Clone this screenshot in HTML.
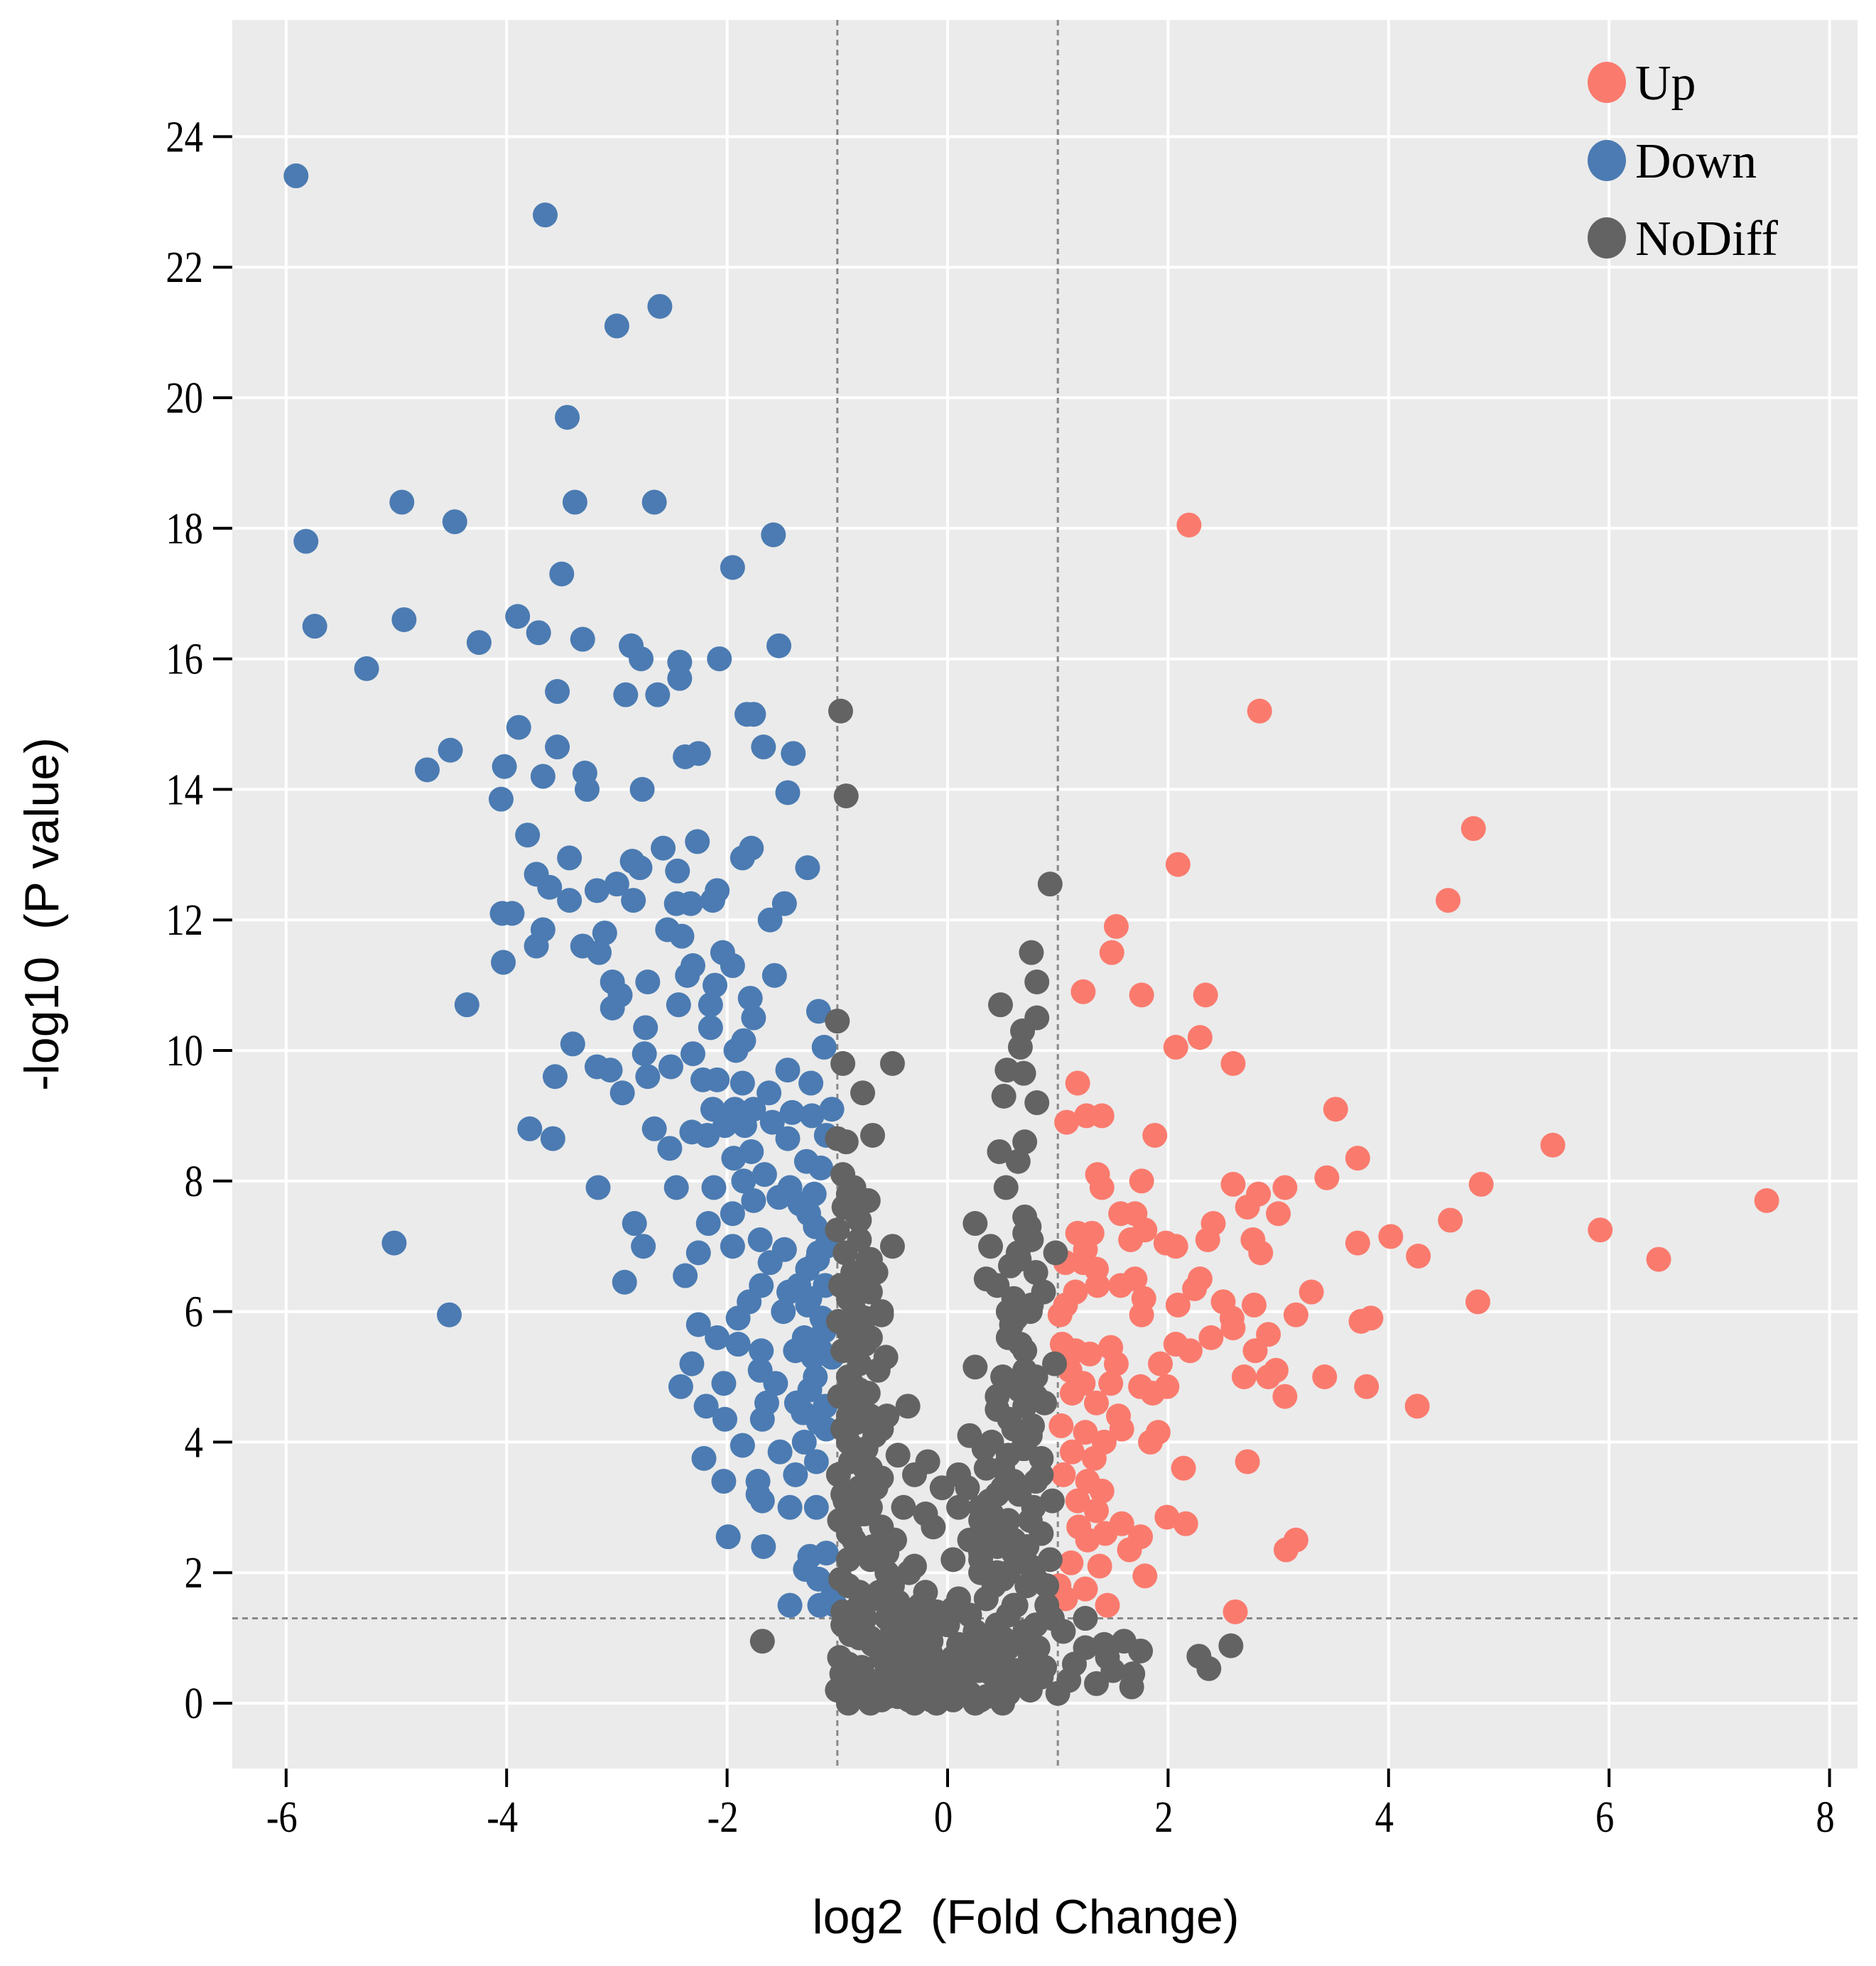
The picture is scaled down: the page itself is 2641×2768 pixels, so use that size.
<!DOCTYPE html>
<html><head><meta charset="utf-8"><style>
html,body{margin:0;padding:0;background:#fff;}
svg{display:block;}
text{white-space:pre;}
</style></head><body>
<svg id="chart" width="2641" height="2768" viewBox="0 0 2641 2768" xmlns="http://www.w3.org/2000/svg"></svg>
<script>
const xTicks=[-6,-4,-2,0,2,4,6,8];
const yTicks=[0,2,4,6,8,10,12,14,16,18,20,22,24];
const xThresholds=[-1,1];
const yThreshold=1.3;
const downX=[-5.91,-3.65,-2.61,-3.0,-3.45,-4.95,-2.66,-3.38,-4.47,-5.82,-1.58,-1.95,-3.5,-5.74,-4.93,-3.9,-3.71,-3.31,-4.25,-2.87,-2.78,-2.43,-2.07,-1.53,-5.27,-2.43,-3.54,-2.92,-2.63,-1.82,-1.76,-3.89,-4.51,-3.54,-1.67,-1.40,-2.38,-2.26,-4.72,-4.02,-3.67,-3.29,-3.27,-2.77,-1.45,-4.05,-3.81,-2.58,-2.27,-1.78,-1.86,-3.43,-1.27,-3.73,-2.45,-2.79,-2.86,-3.61,-3.18,-3.0,-2.85,-3.43,-2.09,-2.13,-2.46,-2.33,-1.48,-1.61,-4.04,-3.95,-2.54,-2.41,-3.11,-3.67,-3.31,-3.73,-3.16,-2.04,-4.03,-1.95,-2.31,-2.36,-3.04,-2.72,-1.57,-2.11,-1.79,-2.97,-2.44,-3.04,-2.15,-4.36,-1.17,-1.76,-2.74,-2.15,-3.40,-1.85,-1.92,-2.75,-2.31,-1.12,-1.45,-3.18,-3.06,-2.51,-2.72,-3.56,-2.22,-2.09,-1.86,-1.24,-2.95,-1.62,-2.13,-1.93,-1.76,-1.41,-1.23,-2.02,-1.84,-1.59,-2.66,-2.32,-2.18,-3.79,-3.58,-2.52,-1.78,-1.45,-1.94,-1.28,-1.66,-1.85,-1.43,-3.17,-2.46,-2.12,-1.21,-1.53,-1.76,-1.34,-1.95,-1.26,-2.17,-2.84,-5.02,-1.70,-1.95,-2.76,-2.26,-1.48,-1.17,-1.61,-1.27,-2.38,-2.93,-1.69,-1.11,-1.44,-1.80,-1.27,-1.49,-4.52,-1.90,-1.14,-2.26,-2.09,-1.90,-1.69,-1.38,-1.15,-2.32,-1.70,-2.03,-1.56,-2.42,-1.25,-1.64,-1.37,-2.19,-1.11,-1.31,-2.02,-1.68,-1.17,-1.86,-1.52,-1.19,-2.21,-1.38,-2.03,-1.72,-1.68,-1.72,-1.43,-1.19,-1.99,-1.67,-1.25,-1.10,-1.29,-1.17,-1.43,-1.16,-1.02,-1.04,-1.15,-1.2,-1.1,-1.25,-1.12,-1.3,-1.2,-1.1,-1.3,-1.18,-1.1,-1.05,-1.22,-1.05,-1.35];
const downY=[23.4,22.8,21.4,21.1,19.7,18.4,18.4,18.4,18.1,17.8,17.9,17.4,17.3,16.5,16.6,16.65,16.4,16.3,16.25,16.2,16.0,15.95,16.0,16.2,15.85,15.7,15.5,15.45,15.45,15.15,15.15,14.95,14.6,14.65,14.65,14.55,14.5,14.55,14.3,14.35,14.2,14.25,14.0,14.0,13.95,13.85,13.3,13.1,13.2,13.1,12.95,12.95,12.8,12.7,12.75,12.8,12.9,12.5,12.45,12.55,12.3,12.3,12.45,12.3,12.25,12.25,12.25,12.0,12.1,12.1,11.85,11.75,11.8,11.85,11.6,11.6,11.5,11.5,11.35,11.3,11.3,11.15,11.05,11.05,11.15,11.0,10.8,10.85,10.7,10.65,10.7,10.7,10.6,10.5,10.35,10.35,10.1,10.15,10.0,9.95,9.95,10.05,9.7,9.75,9.7,9.75,9.6,9.6,9.55,9.55,9.5,9.5,9.35,9.35,9.1,9.1,9.1,9.05,9.0,8.85,8.85,8.9,8.8,8.75,8.7,8.8,8.65,8.5,8.45,8.65,8.35,8.3,8.1,8.0,7.9,7.9,7.9,7.9,7.8,7.75,7.7,7.65,7.5,7.5,7.35,7.35,7.05,7.1,7.0,7.0,6.9,6.95,6.9,6.75,6.65,6.55,6.45,6.4,6.4,6.3,6.15,6.1,6.0,5.95,5.9,5.9,5.8,5.6,5.5,5.4,5.4,5.4,5.2,5.1,4.9,4.9,4.85,4.8,4.6,4.6,4.55,4.55,4.45,4.35,4.35,4.3,3.95,3.85,3.7,3.75,3.5,3.4,3.4,3.1,3.2,3.0,3.0,2.55,2.4,2.25,2.3,2.05,1.9,1.5,1.5,1.5,1.65,8.2,7.3,7.0,6.2,5.7,5.6,5.0,4.2,4.0,6.8,8.7,9.1,5.3,5.3,6.4];
const upX=[2.19,2.83,4.77,2.09,4.54,1.53,1.49,1.23,1.76,2.34,2.29,2.07,2.59,1.18,3.52,1.08,1.26,1.40,1.88,5.49,3.72,1.36,1.40,1.76,3.44,4.84,2.59,2.82,3.06,7.43,2.72,3.0,1.57,1.7,4.56,2.41,1.18,1.31,1.79,5.92,4.02,3.72,1.66,1.98,2.36,2.77,2.07,2.84,1.25,4.27,6.45,1.07,1.23,1.35,1.70,2.29,3.30,1.57,1.78,2.24,1.36,1.16,1.07,2.09,4.81,2.50,2.78,1.02,1.76,3.16,2.58,3.84,3.75,2.59,2.91,1.04,2.07,2.39,1.16,1.48,2.79,1.29,2.20,1.93,1.11,2.98,1.53,2.69,3.42,2.91,1.23,1.48,1.75,1.99,3.80,1.13,1.86,1.35,3.06,4.26,1.55,1.03,1.25,1.58,1.91,1.42,1.84,1.13,1.33,2.72,2.14,1.05,1.27,1.4,1.18,1.35,1.99,2.16,1.19,1.58,1.43,1.75,3.16,3.07,1.27,1.65,1.12,1.38,1.79,1.01,1.25,1.45,2.61,1.07];
const upY=[18.05,15.2,13.4,12.85,12.3,11.9,11.5,10.9,10.85,10.85,10.2,10.05,9.8,9.5,9.1,8.9,9.0,9.0,8.7,8.55,8.35,8.1,7.9,8.0,8.05,7.95,7.95,7.8,7.9,7.7,7.6,7.5,7.5,7.5,7.4,7.35,7.2,7.2,7.25,7.25,7.15,7.05,7.1,7.05,7.1,7.1,7.0,6.9,6.95,6.85,6.8,6.75,6.75,6.65,6.5,6.5,6.3,6.4,6.2,6.35,6.4,6.3,6.1,6.1,6.15,6.15,6.1,5.95,5.95,5.95,5.9,5.9,5.85,5.75,5.65,5.5,5.5,5.6,5.4,5.45,5.4,5.35,5.4,5.2,5.1,5.1,5.2,5.0,5.0,5.0,4.9,4.9,4.85,4.85,4.85,4.75,4.75,4.6,4.7,4.55,4.4,4.25,4.15,4.2,4.15,4.0,4.0,3.85,3.75,3.7,3.6,3.5,3.4,3.25,3.1,2.95,2.85,2.75,2.7,2.75,2.6,2.55,2.5,2.35,2.5,2.35,2.15,2.1,1.95,1.8,1.75,1.5,1.4,1.6];
const noX=[-0.97,-0.92,0.93,0.76,0.81,0.81,0.48,0.68,0.66,-1.0,-0.95,-0.5,0.54,0.69,0.51,0.81,-0.77,-1.0,-0.92,-0.68,0.70,0.47,0.64,0.53,-0.95,-0.85,-0.72,-0.94,-0.83,0.25,0.70,0.74,0.76,-0.8,-1.0,-0.5,0.39,0.64,0.98,0.57,-0.93,-0.86,-0.78,-0.7,-0.97,0.35,0.45,0.87,0.76,0.55,0.58,0.62,-0.6,-0.84,-0.99,-0.9,-0.75,-0.56,-0.95,-0.8,0.66,0.25,0.70,0.8,0.97,-0.63,-0.87,-0.98,-0.72,-0.36,0.45,0.70,0.88,-0.55,-0.83,-0.95,-0.66,0.56,0.77,0.2,0.33,-0.18,-0.45,-0.74,-0.88,-0.99,0.68,0.85,0.5,0.1,-0.05,0.18,-0.3,-0.6,-0.8,-0.93,-0.7,0.6,0.38,0.78,0.95,-0.4,-0.2,0.1,0.3,0.55,0.85,-0.98,-0.85,-0.6,-0.48,-0.13,0.2,0.45,0.72,0.93,-0.9,-0.7,-0.55,-0.3,0.05,0.3,0.55,0.8,-0.97,-0.8,-0.62,-0.45,-0.2,0.1,0.35,0.62,0.9,-0.95,-0.75,-0.5,-0.3,0.0,0.2,0.45,0.7,0.95,-0.88,-0.68,-0.4,-0.15,0.1,0.3,0.55,0.82,-0.98,-0.78,-0.55,-0.3,-0.05,0.15,0.4,0.62,0.88,-0.85,-0.6,-0.4,-0.2,0.0,0.2,0.35,0.55,0.75,-0.95,-0.1,0.05,0.25,-0.35,0.5,-0.7,1.0,-1.68,1.15,1.35,1.45,1.6,1.75,1.5,1.25,1.05,1.25,2.28,2.37,2.57,1.67,1.68,1.42,1.1,-1.0,-0.96,-0.9,-0.95,-0.8,0.15,-0.25,-0.1,0.05,-0.45,0.45,0.35,-0.6,0.75,-0.4,0.55,-0.15,0.25,-0.85,-0.75,-0.65,-0.9,-0.8,-0.7,-0.88,-0.78,-0.68,0.35,0.45,0.4,0.5,0.3,0.6,0.42,-0.82,-0.72,-0.92,0.6,0.72,0.28,-0.25,
-0.9,-0.8,-0.7,-0.6,-0.9,-0.8,-0.7,-0.9,-0.8,-0.7,-0.6,-0.9,-0.75,-0.65,-0.95,-0.85,-0.75,-0.9,-0.8,-0.7,-0.55,-0.9,-0.8,-0.65,-0.5,-0.35,-0.85,-0.7,-0.55,-0.4,-0.25,-0.9,-0.75,-0.6,-0.45,-0.3,-0.15,-0.85,-0.7,-0.55,-0.4,-0.25,-0.1,0.05,-0.6,-0.45,-0.3,-0.15,0.0,0.15,0.3,0.45,-0.5,-0.35,-0.2,-0.05,0.1,0.25,0.4,0.55,0.7,0.85,-0.25,-0.1,0.05,0.2,0.35,0.5,0.65,0.8,0.3,0.45,0.6,0.75,0.9,0.3,0.45,0.6,0.75,0.35,0.5,0.65,0.8,0.4,0.55,0.7,0.85,0.45,0.6,0.75,0.5,0.65,0.8,0.55,0.7,0.6,0.75,0.65,0.8,0.7];
const noY=[15.2,13.9,12.55,11.5,11.05,10.5,10.7,10.3,10.05,10.45,9.8,9.8,9.7,9.65,9.3,9.2,9.35,8.65,8.6,8.7,8.6,8.45,8.3,7.9,8.1,7.9,7.7,7.6,7.5,7.35,7.45,7.3,7.1,7.1,7.25,7.0,7.0,6.9,6.9,6.7,6.9,6.6,6.5,6.3,6.4,6.5,6.4,6.3,6.1,6.0,5.8,5.9,5.95,6.0,5.85,5.7,5.5,5.3,5.4,5.2,5.5,5.15,5.1,5.0,5.2,5.1,4.9,4.7,4.75,4.55,4.7,4.55,4.6,4.4,4.3,4.2,4.1,4.35,4.25,4.1,3.9,3.7,3.8,3.9,3.7,3.5,3.9,3.75,3.6,3.5,3.3,3.3,3.5,3.45,3.3,3.1,3.0,3.3,3.1,3.0,3.1,3.0,2.9,3.0,2.8,2.8,2.6,2.8,2.5,2.7,2.5,2.7,2.5,2.4,2.4,2.2,2.2,2.2,2.0,2.1,2.2,2.0,2.0,1.9,1.9,1.7,1.7,1.55,1.7,1.6,1.6,1.5,1.5,1.4,1.3,1.1,1.3,1.2,1.35,1.2,1.1,1.3,1.05,0.9,0.8,0.95,0.9,0.75,0.85,0.85,0.7,0.55,0.5,0.45,0.6,0.5,0.45,0.5,0.55,0.3,0.2,0.2,0.15,0.2,0.15,0.1,0.15,0.2,0.2,0.0,0.05,0.0,0.05,0.0,0.0,0.15,0.95,0.6,0.3,0.7,0.95,0.8,0.5,0.85,1.1,1.3,0.72,0.53,0.88,0.25,0.45,0.9,0.35,0.2,0.45,0.0,1.2,1.0,0.35,0.6,0.4,0.7,0.35,0.65,1.0,0.8,0.7,1.4,1.35,1.1,1.1,6.2,5.9,6.6,4.4,4.6,3.6,2.6,2.9,2.4,2.6,3.2,2.9,1.9,2.3,3.4,1.8,5.6,6.8,3.2,1.5,1.8,0.5,0.35,
7.8,7.4,6.8,6.0,6.2,5.8,5.6,5.0,4.8,4.4,4.2,4.0,3.6,3.3,3.2,3.0,2.9,2.6,2.4,2.3,2.3,1.8,1.5,1.6,1.8,2.0,1.2,1.0,1.3,1.15,1.0,0.6,0.4,0.7,0.5,0.65,0.75,0.15,0.25,0.1,0.3,0.35,0.3,0.25,0.05,0.1,0.0,0.05,0.4,0.3,0.05,0.3,0.9,0.75,0.55,0.4,0.45,0.6,0.55,0.35,0.35,0.4,1.5,1.4,1.45,0.9,0.8,1.0,0.95,1.2,2.2,2.0,2.3,2.1,1.8,3.0,2.7,2.5,2.8,3.6,3.3,3.2,3.4,4.0,3.8,3.9,3.5,4.5,4.2,4.1,5.0,4.8,4.7,5.6,5.4,6.2,6.0,6.8,6.6,7.2];

const svg=document.getElementById('chart');
const NS='http://www.w3.org/2000/svg';
const L=327,R=2615,T=28,B=2490;
function sx(v){return 1334+v*155.2;}
function sy(v){return 2398-v*91.9;}
function mk(tag,attrs,parent){const e=document.createElementNS(NS,tag);for(const k in attrs)e.setAttribute(k,attrs[k]);(parent||svg).appendChild(e);return e;}

const bg=mk('rect',{x:L,y:T,width:R-L,height:B-T,fill:'#EBEBEB'});



const grid=mk('g',{});


xTicks.forEach(t=>{mk('line',{x1:sx(t),x2:sx(t),y1:T,y2:B,stroke:'#fff','stroke-width':4},grid);});
yTicks.forEach(t=>{mk('line',{x1:L,x2:R,y1:sy(t),y2:sy(t),stroke:'#fff','stroke-width':4},grid);});

const xAxis=mk('g',{});


xTicks.forEach(t=>{
  mk('line',{x1:sx(t),x2:sx(t),y1:B,y2:B+26,stroke:'#000','stroke-width':4},xAxis);
  const tx=mk('text',{x:0,y:0,'text-anchor':'middle','font-family':'Liberation Serif, serif','font-size':62,fill:'#000',transform:'translate('+(sx(t)-6)+',2579) scale(0.85,1)'},xAxis);
  tx.textContent=String(t);
  
  
});
const yAxis=mk('g',{});


yTicks.forEach(t=>{
  mk('line',{x1:L-27,x2:L,y1:sy(t),y2:sy(t),stroke:'#000','stroke-width':4},yAxis);
  const tx=mk('text',{x:0,y:0,'text-anchor':'end','font-family':'Liberation Serif, serif','font-size':62,fill:'#000',transform:'translate(286,'+(sy(t)+21)+') scale(0.85,1)'},yAxis);
  tx.textContent=String(t);
  
  
});

const th=mk('g',{});


xThresholds.forEach(t=>{mk('line',{x1:sx(t),x2:sx(t),y1:T,y2:B,stroke:'#888','stroke-width':3,'stroke-dasharray':'8 6'},th);});
mk('line',{x1:L,x2:R,y1:sy(yThreshold),y2:sy(yThreshold),stroke:'#888','stroke-width':3,'stroke-dasharray':'8 6'},th);

function series(xs,ys,color,name){
  const g=mk('g',{});
  
  
  const n=Math.min(xs.length,ys.length);
  for(let i=0;i<n;i++){
    const c=mk('circle',{cx:sx(xs[i]),cy:sy(ys[i]),r:17.5,fill:color},g);
    
    
  }
}
series(downX,downY,'#4B7BB2','series-down');
series(upX,upY,'#FA7B6E','series-up');
series(noX,noY,'#636363','series-nodiff');

const leg=mk('g',{});


[['Up','#FA7B6E',116],['Down','#4B7BB2',226],['NoDiff','#636363',335]].forEach(d=>{
  mk('ellipse',{cx:2262,cy:d[2],rx:27,ry:29,fill:d[1]},leg);
  const t=mk('text',{x:2302,y:d[2]+24,'font-family':'Liberation Serif, serif','font-size':70,fill:'#000'},leg);
  t.textContent=d[0];
  
  
});

const xt=mk('text',{x:1444,y:2722,'text-anchor':'middle','font-family':'Liberation Sans, sans-serif','font-size':68,fill:'#000'});
xt.textContent='log2  (Fold Change)';


const yt=mk('text',{x:0,y:0,'text-anchor':'middle','font-family':'Liberation Sans, sans-serif','font-size':68,fill:'#000',transform:'translate(82,1287) rotate(-90)'});
yt.textContent='-log10  (P value)';


</script>
</body></html>
